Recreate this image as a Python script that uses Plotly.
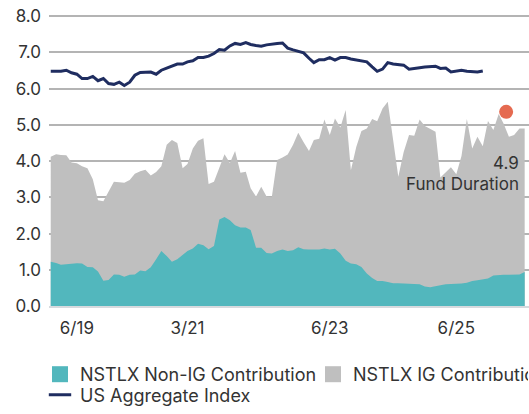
import pandas as pd
import plotly.graph_objects as go

# ---- data (monthly, starting Jan 2019) ----
months = pd.date_range("2019-01-01", periods=91, freq="MS")

fund_total = [4.12, 4.19, 4.17, 4.16, 3.96, 3.94, 3.86, 3.80, 3.50, 2.92,
              2.89, 3.15, 3.43, 3.42, 3.40, 3.48, 3.65, 3.72, 3.76, 3.60,
              3.70, 3.86, 4.45, 4.58, 4.50, 3.80, 3.92, 4.35, 4.56, 4.63,
              3.37, 3.43, 3.80, 4.19, 3.95, 4.28, 3.68, 3.71, 3.25, 3.02,
              3.29, 3.02, 3.00, 4.03, 4.10, 4.18, 4.45, 4.78, 4.52, 4.28,
              4.58, 4.62, 5.15, 4.72, 5.18, 4.93, 5.41, 3.75, 4.39, 4.83,
              4.90, 5.16, 5.10, 5.45, 5.64, 4.58, 3.57, 4.25, 4.72, 4.70,
              5.15, 4.97, 4.90, 4.81, 3.55, 3.70, 3.83, 3.64, 4.14, 5.16,
              4.35, 4.67, 4.41, 5.11, 4.86, 5.30, 5.04, 4.67, 4.72, 4.90,
              4.90]

non_ig = [1.22, 1.19, 1.14, 1.15, 1.18, 1.18, 1.17, 1.08, 1.07, 0.95,
          0.70, 0.72, 0.87, 0.86, 0.81, 0.86, 0.87, 0.98, 0.96, 1.07,
          1.29, 1.52, 1.38, 1.22, 1.29, 1.41, 1.52, 1.59, 1.72, 1.68,
          1.57, 1.66, 2.39, 2.46, 2.37, 2.23, 2.17, 2.17, 2.10, 1.61,
          1.61, 1.46, 1.45, 1.52, 1.56, 1.52, 1.54, 1.62, 1.57, 1.56,
          1.56, 1.56, 1.59, 1.56, 1.58, 1.45, 1.25, 1.17, 1.15, 1.08,
          0.90, 0.77, 0.69, 0.69, 0.66, 0.63, 0.63, 0.63, 0.62, 0.61,
          0.60, 0.54, 0.52, 0.54, 0.57, 0.60, 0.60, 0.61, 0.62, 0.64,
          0.69, 0.71, 0.74, 0.76, 0.84, 0.86, 0.86, 0.86, 0.86, 0.87,
          0.94]

us_agg = [6.48, 6.48, 6.48, 6.51, 6.44, 6.40, 6.28, 6.28, 6.34, 6.22,
          6.28, 6.14, 6.12, 6.18, 6.09, 6.18, 6.37, 6.45, 6.45, 6.46,
          6.40, 6.51, 6.57, 6.62, 6.68, 6.68, 6.74, 6.77, 6.86, 6.86,
          6.90, 6.97, 7.08, 7.06, 7.18, 7.25, 7.22, 7.27, 7.22, 7.19,
          7.17, 7.21, 7.24, 7.25, 7.26, 7.12, 7.07, 7.03, 6.99, 6.84,
          6.72, 6.80, 6.80, 6.86, 6.79, 6.86, 6.86, 6.82, 6.80, 6.77,
          6.74, 6.60, 6.48, 6.54, 6.72, 6.68, 6.67, 6.65, 6.54, 6.57,
          6.58, 6.60, 6.61, 6.62, 6.56, 6.57, 6.46, 6.48, 6.51, 6.48,
          6.48, 6.46, 6.49]

dot_date = ["2026-03-16"]
dot_value = [5.36]

tick_dates = ["2019-06-01", "2021-03-01", "2023-06-01", "2025-06-01"]
tick_labels = ["6/19", "3/21", "6/23", "6/25"]
ytick_vals = [0, 1, 2, 3, 4, 5, 6, 7, 8]
ytick_labels = ["0.0", "1.0", "2.0", "3.0", "4.0", "5.0", "6.0", "7.0", "8.0"]

TEAL = "rgb(82,183,189)"
GRAY = "rgb(191,191,191)"
NAVY = "rgb(31,45,96)"
RED = "rgb(229,106,80)"
TXT = "#333333"
FONT = "Inter"

fig = go.Figure()

fig.add_trace(go.Scatter(x=months, y=fund_total, mode="lines", fill="tozeroy",
                         fillcolor=GRAY, line=dict(width=0, color=GRAY),
                         showlegend=False, hoverinfo="skip"))
fig.add_trace(go.Scatter(x=months, y=non_ig, mode="lines", fill="tozeroy",
                         fillcolor=TEAL, line=dict(width=0, color=TEAL),
                         showlegend=False, hoverinfo="skip"))
fig.add_trace(go.Scatter(x=months[:len(us_agg)], y=us_agg, mode="lines",
                         line=dict(width=3, color=NAVY), showlegend=False))
fig.add_trace(go.Scatter(x=dot_date, y=dot_value, mode="markers",
                         marker=dict(size=14, color=RED), showlegend=False))

# legend entries
fig.add_trace(go.Scatter(x=[None], y=[None], mode="markers", name="NSTLX Non-IG Contribution",
                         marker=dict(symbol="square", size=16, color=TEAL), legend="legend"))
fig.add_trace(go.Scatter(x=[None], y=[None], mode="markers", name="NSTLX IG Contribution",
                         marker=dict(symbol="square", size=16, color=GRAY), legend="legend2"))
fig.add_trace(go.Scatter(x=[None], y=[None], mode="markers", name="US Aggregate Index",
                         marker=dict(symbol="line-ew-open", size=16, color=NAVY,
                                     line=dict(width=3, color=NAVY)), legend="legend3"))

W, H = 529, 414
PLOT_L, PLOT_R, PLOT_B, PLOT_T = 49, 529, 306, 9
def px_y(py):
    return (PLOT_B - py) / (PLOT_B - PLOT_T)
def px_x(px):
    return (px - PLOT_L) / (PLOT_R - PLOT_L)

leg_common = dict(orientation="h", xanchor="left", yanchor="middle",
                  font=dict(family=FONT, size=18, color=TXT),
                  bgcolor="rgba(0,0,0,0)", borderwidth=0)

LEG2_LEFT = 313

fig.update_layout(
    width=W, height=H,
    margin=dict(l=PLOT_L, r=W - PLOT_R, t=PLOT_T, b=H - PLOT_B),
    paper_bgcolor="white", plot_bgcolor="white",
    font=dict(family=FONT, color=TXT),
    xaxis=dict(type="date", range=["2018-12-22", "2026-07-26"],
               tickvals=tick_dates, ticktext=tick_labels,
               showgrid=False, zeroline=False, ticks="", ticklabelstandoff=6,
               showline=True, linecolor="rgb(215,218,222)", linewidth=2,
               tickfont=dict(family=FONT, size=17, color=TXT)),
    yaxis=dict(range=[0, 8.2], tickvals=ytick_vals, ticktext=ytick_labels,
               showgrid=True, gridcolor="rgb(180,180,180)", gridwidth=1.5,
               zeroline=False, showline=False, ticks="", ticklabelstandoff=7,
               tickfont=dict(family=FONT, size=17, color=TXT)),
    legend=dict(leg_common, x=px_x(40), y=px_y(374.5)),
    # the reference chart is cropped at its right edge, cutting this entry
    legend2=dict(leg_common, x=px_x(LEG2_LEFT), y=px_y(374.5),
                 entrywidth=W - LEG2_LEFT - 46, entrywidthmode="pixels"),
    legend3=dict(leg_common, x=px_x(40), y=px_y(395)),
    annotations=[
        dict(xref="paper", yref="y", x=px_x(521), y=3.95, text="4.9",
             showarrow=False, xanchor="right", yanchor="middle",
             font=dict(family=FONT, size=17, color=TXT)),
        dict(xref="paper", yref="y", x=px_x(521), y=3.37, text="Fund Duration",
             showarrow=False, xanchor="right", yanchor="middle",
             font=dict(family=FONT, size=17, color=TXT)),
    ],
)

fig.write_html("out.html", config={"displayModeBar": False},
               post_script="document.body.style.margin='0';document.body.style.overflow='hidden';")
